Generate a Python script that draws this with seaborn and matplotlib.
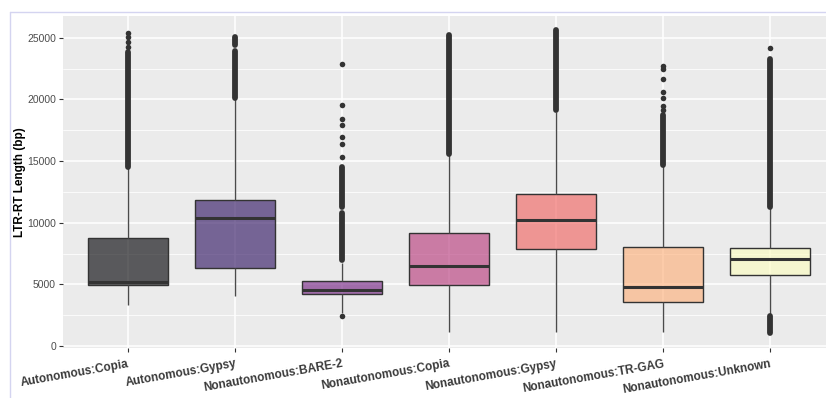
import pandas as pd
import numpy as np
import matplotlib
matplotlib.use("Agg")
import matplotlib.pyplot as plt
from matplotlib.lines import Line2D
import seaborn as sns

# LTR-RT length summary per class
categories = ["Autonomous:Copia", "Autonomous:Gypsy", "Nonautonomous:BARE-2",
              "Nonautonomous:Copia", "Nonautonomous:Gypsy", "Nonautonomous:TR-GAG",
              "Nonautonomous:Unknown"]
whisker_lo = [3300, 4050, 2700, 1160, 1160, 1160, 2550]
q1 = [4920, 6350, 4220, 4950, 7840, 3570, 5730]
medians = [5210, 10400, 4540, 6510, 10220, 4810, 7080]
q3 = [8760, 11840, 5270, 9190, 12330, 8030, 7980]
whisker_hi = [14410, 20090, 6700, 15490, 19000, 14620, 11170]

# outliers: dense streaks (category, low, high) and single points (category, value)
streak_cat = [0, 1, 1, 2, 2, 3, 4, 5, 6, 6]
streak_lo = [14500, 20150, 24400, 6970, 11270, 15600, 19100, 14700, 11300, 1080]
streak_hi = [23850, 23950, 25090, 10760, 14500, 25250, 25650, 18700, 23300, 2450]
point_cat = [0, 0, 0, 0, 2, 2, 2, 2, 2, 2, 2, 2, 5, 5, 5, 5, 5, 5, 5, 6]
point_val = [24270, 24680, 25030, 25360, 2430, 15330, 16380, 16980, 17900, 18410,
             19520, 22870, 19140, 19460, 20090, 20570, 21680, 22460, 22730, 24190]

# magma (7) fills, drawn at alpha 0.62 like the original
fill_colors = ["#000004", "#2D1160", "#721F81", "#B63679", "#F1605D", "#FEAF77", "#FCFDBF"]

rows = []
for i, c in enumerate(categories):
    for v in (whisker_lo[i], q1[i], medians[i], q3[i], whisker_hi[i]):
        rows.append({"class": c, "length": v})
df = pd.DataFrame(rows)

sns.set_theme(style="darkgrid", rc={"axes.facecolor": "#EBEBEB", "grid.color": "white"})
plt.rcParams["font.family"] = ["Liberation Sans", "DejaVu Sans"]

fig = plt.figure(figsize=(8.26, 3.98), dpi=100)
ax = fig.add_axes([63 / 826, 1 - 348 / 398, 1 - 63 / 826, (348 - 15.7) / 398])

sns.boxplot(data=df, x="class", y="length", order=categories, hue="class",
            palette=fill_colors, legend=False, whis=(0, 100), width=0.75,
            showfliers=False, linecolor="#333333", linewidth=1.0,
            medianprops={"linewidth": 2.2, "color": "#333333"},
            whiskerprops={"linewidth": 1.0, "color": "#4A4A4A"},
            capprops={"linewidth": 0}, ax=ax, zorder=3)

for patch, col in zip(ax.patches, fill_colors):
    patch.set_facecolor(matplotlib.colors.to_rgba(col, 0.62))
    patch.set_edgecolor("#333333")

ax.vlines(streak_cat, streak_lo, streak_hi, colors="#333333", linewidth=4.2,
          capstyle="round", zorder=4)
ax.scatter(point_cat, point_val, s=16, color="#333333", linewidths=0, zorder=4)

ax.set_xlim(-0.607, 6.523)
ax.set_ylim(-162, 26784)
ax.set_yticks([0, 5000, 10000, 15000, 20000, 25000])
ax.set_yticks([2500, 7500, 12500, 17500, 22500], minor=True)
ax.grid(True, which="major", color="white", linewidth=1.1)
ax.grid(True, which="minor", axis="y", color="white", linewidth=0.55)
ax.set_axisbelow(True)
for s in ax.spines.values():
    s.set_visible(False)

ax.tick_params(axis="both", which="major", length=3, width=0.8, color="#333333",
               pad=2, bottom=True, left=True)
ax.tick_params(axis="x", pad=4)
ax.tick_params(axis="y", which="minor", length=0)
ax.tick_params(axis="y", labelsize=7.5, labelcolor="#4D4D4D")
ax.set_xticks(range(len(categories)))
ax.set_xticklabels(categories, rotation=10, ha="right", rotation_mode="anchor",
                   fontsize=8.5, fontweight="bold", color="#3A3A3A")
ax.set_xlabel("")
ax.set_ylabel("LTR-RT Length (bp)", fontsize=8.5, fontweight="bold", color="black",
              labelpad=1)

# thin frame around the figure (left and top edges)
fig.add_artist(Line2D([10 / 826, 10 / 826], [0, 1 - 11.5 / 398], color="#D4D4F0",
                      linewidth=1, transform=fig.transFigure))
fig.add_artist(Line2D([10 / 826, 1], [1 - 11.5 / 398, 1 - 11.5 / 398], color="#D4D4F0",
                      linewidth=1, transform=fig.transFigure))

fig.savefig("out.png", dpi=100, facecolor="white")
